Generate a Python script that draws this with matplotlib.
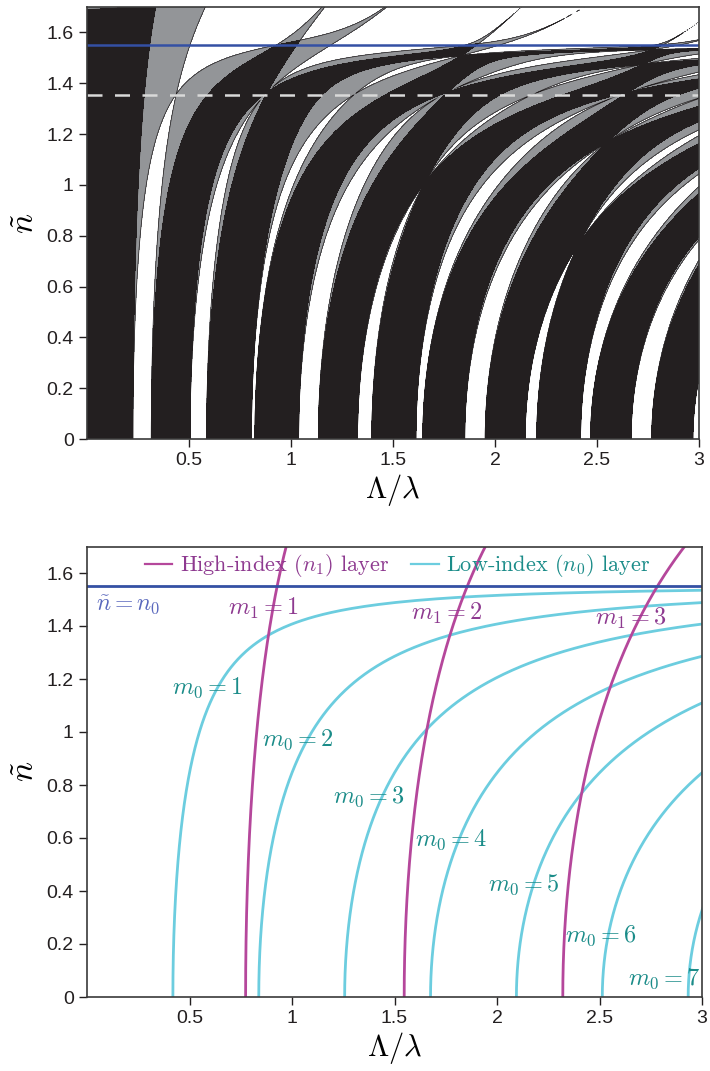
import numpy as np
import matplotlib
matplotlib.use("Agg")
import matplotlib.pyplot as plt
from matplotlib.lines import Line2D

# ---------------- data / parameters ----------------
n_low = 1.55          # low-index layer n0 (blue line)
n_high = 2.81         # high-index layer n1
fill_high = 0.23      # d1 / Lambda
n_dashed = 1.355      # white dashed reference line (top panel)
x_limits = [0.0, 3.0]
y_limits = [0.0, 1.7]
x_ticks = [0.5, 1, 1.5, 2, 2.5, 3]
y_ticks = [0, 0.2, 0.4, 0.6, 0.8, 1, 1.2, 1.4, 1.6]

m_low_orders = [1, 2, 3, 4, 5, 6, 7]
m_high_orders = [1, 2, 3]

low_label_x = [0.586, 1.027, 1.377, 1.777, 2.131, 2.508, 2.815]
low_label_y = [1.166, 0.970, 0.755, 0.592, 0.423, 0.230, 0.068]
high_label_x = [0.859, 1.757, 2.653]
high_label_y = [1.468, 1.449, 1.430]

legend_labels = [r"High-index $(n_1)$ layer", r"Low-index $(n_0)$ layer"]

# colours
c_black = "#231f20"
c_grey = "#939598"
c_blue = "#3450a4"
c_mag = "#b5479b"
c_mag_txt = "#8e3a90"
c_cyan = "#6ccddf"
c_teal_txt = "#1b8c89"
c_blue_txt = "#5a68bd"

plt.rcParams["mathtext.fontset"] = "cm"
plt.rcParams["font.family"] = ["Liberation Sans", "DejaVu Sans"]

fill_low = 1.0 - fill_high

# ---------------- band structure (transfer matrix half-trace) ----------------
xg = np.linspace(0.002, 3.0, 1800)
yg = np.linspace(0.0, 1.7, 1101) + 1.3e-5
X, Y = np.meshgrid(xg, yg)


def half_trace(pol):
    k0 = np.sqrt(n_low ** 2 - Y ** 2 + 0j)
    k1 = np.sqrt(n_high ** 2 - Y ** 2 + 0j)
    ph0 = 2 * np.pi * X * fill_low * k0
    ph1 = 2 * np.pi * X * fill_high * k1
    if pol == "TE":
        p0, p1 = k0, k1
    else:
        p0, p1 = k0 / n_low ** 2, k1 / n_high ** 2
    t = np.cos(ph0) * np.cos(ph1) - 0.5 * (p0 / p1 + p1 / p0) * np.sin(ph0) * np.sin(ph1)
    return np.clip(np.abs(t.real) - 1.0, -1, 1)


with np.errstate(all="ignore"):
    g_te = half_trace("TE")
    g_tm = half_trace("TM")
g_both = np.maximum(g_te, g_tm)

fig = plt.figure(figsize=(7.10, 10.71), dpi=100)

ax1 = fig.add_axes([87 / 710, 632 / 1071, (699 - 87) / 710, (439 - 7) / 1071])
ax1.set_facecolor("white")
ax1.contourf(X, Y, g_te, levels=[-2, 0], colors=[c_grey])
ax1.contourf(X, Y, g_tm, levels=[-2, 0], colors=[c_grey])
ax1.contourf(X, Y, g_both, levels=[-2, 0], colors=[c_black])
ax1.contour(X, Y, g_te, levels=[0], colors=[c_black], linewidths=0.5)
ax1.contour(X, Y, g_tm, levels=[0], colors=[c_black], linewidths=0.5)
ax1.axhline(n_low, color=c_blue, lw=1.8)
ax1.axhline(n_dashed, color="#d9d9d9", lw=1.8, dashes=(6, 5))

ax2 = fig.add_axes([87 / 710, 74 / 1071, (702 - 87) / 710, (997 - 546.5) / 1071])

# layer resonance curves: Lambda/lambda = m / (2 f sqrt(n^2 - ntilde^2))
nt_low = np.concatenate([np.linspace(0, 1.5, 400), n_low - np.logspace(-1.3, -6, 400)])
for m in m_low_orders:
    ax2.plot(m / (2 * fill_low * np.sqrt(n_low ** 2 - nt_low ** 2)), nt_low,
             color=c_cyan, lw=2.0, solid_capstyle="butt")
nt_high = np.linspace(0, 1.75, 400)
for m in m_high_orders:
    ax2.plot(m / (2 * fill_high * np.sqrt(n_high ** 2 - nt_high ** 2)), nt_high,
             color=c_mag, lw=2.0, solid_capstyle="butt")
ax2.axhline(n_low, color=c_blue, lw=2.0)

for m, x, y in zip(m_low_orders, low_label_x, low_label_y):
    ax2.text(x, y, r"$m_0 = %d$" % m, color=c_teal_txt, fontsize=17.5,
             ha="center", va="center")
for m, x, y in zip(m_high_orders, high_label_x, high_label_y):
    ax2.text(x, y, r"$m_1 = %d$" % m, color=c_mag_txt, fontsize=17.5,
             ha="center", va="center")
ax2.text(0.045, 1.479, r"$\tilde{n} = n_0$", color=c_blue_txt, fontsize=17,
         ha="left", va="center")

handles = [Line2D([], [], color=c_mag, lw=1.6), Line2D([], [], color=c_cyan, lw=1.6)]
leg = ax2.legend(handles, legend_labels, loc="center", bbox_to_anchor=(0.505, 0.957),
                 ncol=2, frameon=False, handlelength=1.25, handletextpad=0.35,
                 columnspacing=0.95, prop={"family": "cmr10", "size": 16})
leg.get_texts()[0].set_color(c_mag_txt)
leg.get_texts()[1].set_color(c_teal_txt)

for ax in (ax1, ax2):
    ax.set_xlim(*x_limits)
    ax.set_ylim(*y_limits)
    ax.set_xticks(x_ticks)
    ax.set_yticks(y_ticks)
    ax.set_xticklabels(["%g" % v for v in x_ticks])
    ax.set_yticklabels(["%g" % v for v in y_ticks])
    ax.tick_params(direction="out", length=6, width=1, labelsize=14,
                   colors="#231f20", top=False, right=False)
    for s in ax.spines.values():
        s.set_color("#3a3a3a")
        s.set_linewidth(1.2)
    ax.set_xlabel(r"$\Lambda/\lambda$", fontsize=22, labelpad=2)
    ax.set_ylabel(r"$\tilde{n}$", fontsize=24, labelpad=4)

fig.savefig("out.png", dpi=100)
